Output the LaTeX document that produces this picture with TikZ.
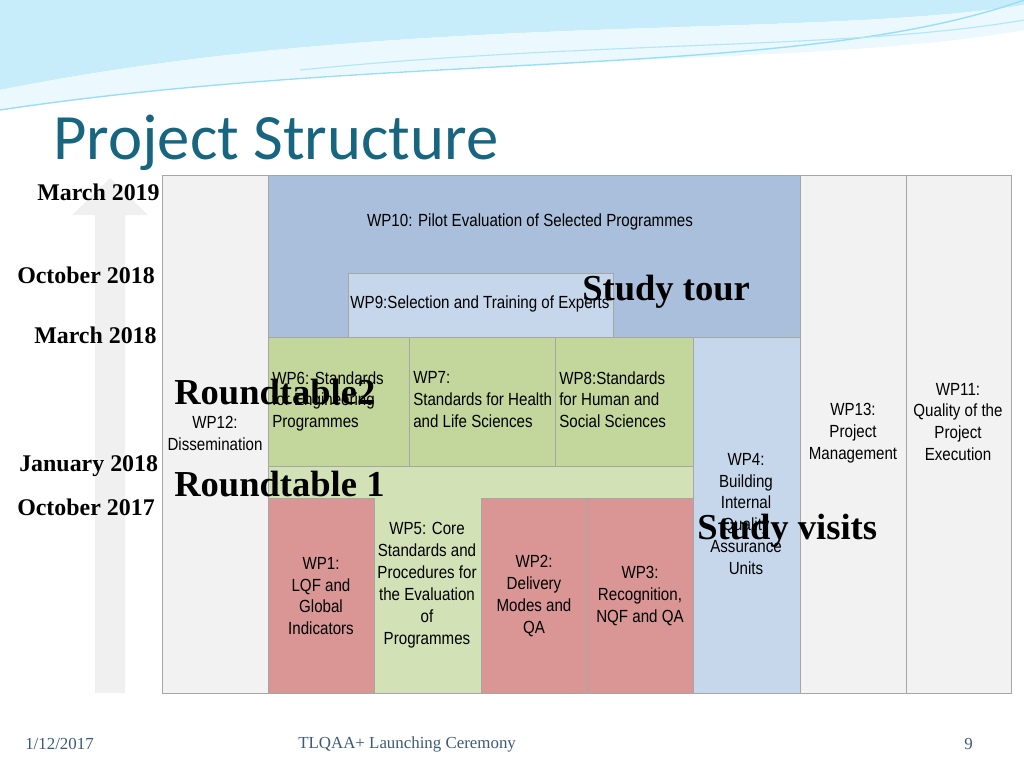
\documentclass[tikz,border=0pt]{standalone}
\usepackage{fontspec}
\setmainfont{Liberation Serif}
\newfontfamily\wpfont[FakeStretch=0.86]{Liberation Sans}
\newfontfamily\titlefont{Carlito}
\definecolor{titleteal}{HTML}{17657F}
\definecolor{wpblue}{HTML}{A9BFDB}
\definecolor{wplight}{HTML}{C6D7EC}
\definecolor{wpgreen}{HTML}{C3D69B}
\definecolor{wpgreenlt}{HTML}{D3E2B6}
\definecolor{wpred}{HTML}{D99694}
\definecolor{wpgray}{HTML}{F2F2F2}
\definecolor{footgray}{HTML}{3C5A78}
\tikzset{
  wpbox/.style={draw=gray!70, line width=0.6pt},
  wptext/.style={font=\wpfont\fontsize{12.5}{15.6}\selectfont, align=center, inner sep=0pt},
  datelabel/.style={font=\bfseries\fontsize{17}{19}\selectfont, anchor=base west, inner sep=0pt},
  eventlabel/.style={font=\bfseries\fontsize{26}{28}\selectfont, anchor=base west, inner sep=0pt},
  footer/.style={font=\fontsize{12}{14}\selectfont, text=footgray, anchor=base west, inner sep=0pt}
}
\begin{document}
\begin{tikzpicture}[x=0.025cm, y=-0.025cm]
\useasboundingbox (0,0) rectangle (1024,768);
% top waves
\fill[cyan!22] (0,0) -- (1024,0) -- (1024,5) .. controls (800,40) and (400,10) .. (0,90) -- cycle;
\fill[cyan!8] (0,90) .. controls (400,10) and (800,40) .. (1024,5) -- (1024,30) .. controls (800,70) and (400,50) .. (0,110) -- cycle;
\draw[cyan!40, line width=1pt] (0,110) .. controls (400,50) and (800,80) .. (1024,0);
\draw[cyan!30, line width=0.8pt] (300,70) .. controls (600,40) and (850,50) .. (1024,20);
% title
\node[font=\titlefont\fontsize{46}{50}\selectfont, text=titleteal, anchor=base west, inner sep=0pt] (title) at (53,160) {Project Structure};
% timeline arrow
\fill[gray!12] (95,693) -- (95,215) -- (72,215) -- (110,178) -- (148,215) -- (125,215) -- (125,693) -- cycle;
% columns
\draw[wpbox, fill=wpgray] (162,175) rectangle (268,693);
\node[wptext] (wp12) at (215,433) {WP12:\\Dissemination};
\draw[wpbox, fill=wpblue] (268,175) rectangle (800,337);
\node[wptext] (wp10) at (530,222) {WP10: Pilot Evaluation of Selected Programmes};
\draw[wpbox, fill=wplight] (348,273) rectangle (613,337);
\node[wptext] (wp9) at (480,304) {WP9:Selection and Training of Experts};
\draw[wpbox, fill=wpgray] (800,175) rectangle (906,693);
\node[wptext] (wp13) at (853,433) {WP13:\\Project\\Management};
\draw[wpbox, fill=wpgray] (906,175) rectangle (1011,693);
\node[wptext] (wp11) at (958,422) {WP11:\\Quality of the\\Project\\Execution};
\draw[wpbox, fill=wpgreen] (268,337) rectangle (409,466);
\node[wptext, align=left, anchor=north west] (wp6) at (272,371) {WP6: Standards\\for Engineering\\Programmes};
\draw[wpbox, fill=wpgreen] (409,337) rectangle (555,466);
\node[wptext, align=left, anchor=north west] (wp7) at (413,371) {WP7:\\Standards for Health\\and Life Sciences};
\draw[wpbox, fill=wpgreen] (555,337) rectangle (693,466);
\node[wptext, align=left, anchor=north west] (wp8) at (559,371) {WP8:Standards\\for Human and\\Social Sciences};
\draw[wpbox, fill=wplight] (693,337) rectangle (800,693);
\node[wptext] (wp4) at (746,514) {WP4:\\Building\\Internal\\Quality\\Assurance\\Units};
\draw[wpbox, fill=wpgreenlt] (268,466) -- (693,466) -- (693,498) -- (481,498) -- (481,693) -- (374,693) -- (374,498) -- (268,498) -- cycle;
\node[wptext] (wp5) at (427,585) {WP5: Core\\Standards and\\Procedures for\\the Evaluation\\of\\Programmes};
\draw[wpbox, fill=wpred] (268,498) rectangle (374,693);
\node[wptext] (wp1) at (321,596) {WP1:\\LQF and\\Global\\Indicators};
\draw[wpbox, fill=wpred] (481,498) rectangle (587,693);
\node[wptext] (wp2) at (534,596) {WP2:\\Delivery\\Modes and\\QA};
\draw[wpbox, fill=wpred] (587,498) rectangle (693,693);
\node[wptext] (wp3) at (640,596) {WP3:\\Recognition,\\NQF and QA};
% dates
\node[datelabel] (d1) at (37,200) {March 2019};
\node[datelabel] (d2) at (17,283) {October 2018};
\node[datelabel] (d3) at (34,343) {March 2018};
\node[datelabel] (d4) at (19,471) {January 2018};
\node[datelabel] (d5) at (17,515) {October 2017};
% events
\node[eventlabel] (rt2) at (174,404) {Roundtable2};
\node[eventlabel] (rt1) at (174,496) {Roundtable 1};
\node[eventlabel] (tour) at (582,300) {Study tour};
\node[eventlabel] (visits) at (697,539) {Study visits};
% footer
\node[footer] (date) at (25,749) {1/12/2017};
\node[footer] (event) at (298,748) {TLQAA+ Launching Ceremony};
\node[footer] (page) at (964,749) {9};
\end{tikzpicture}
\end{document}
